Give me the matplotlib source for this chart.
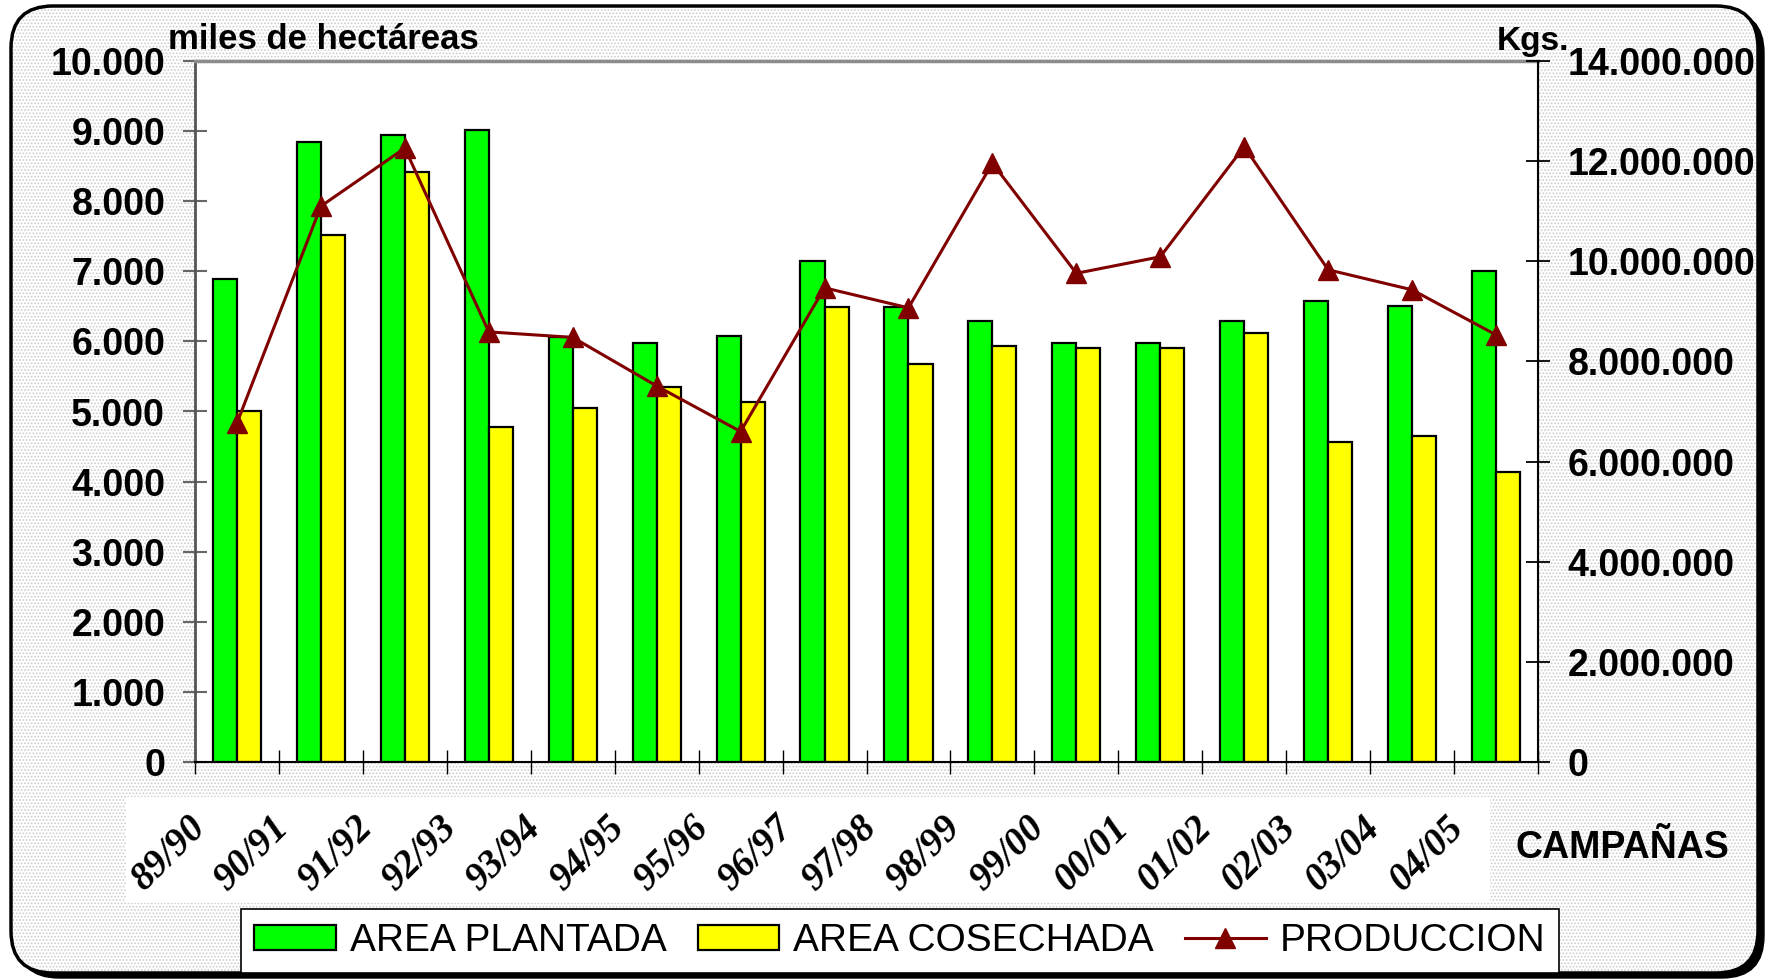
import matplotlib
matplotlib.use("Agg")
import matplotlib.pyplot as plt
import matplotlib.transforms as mtransforms
from matplotlib.patches import FancyBboxPatch, Rectangle
import numpy as np

plt.rcParams['font.family'] = ['Liberation Sans', 'DejaVu Sans']
plt.rcParams['font.weight'] = 'bold'
plt.rcParams['hatch.linewidth'] = 0.8

# datos
campanas = ["89/90", "90/91", "91/92", "92/93", "93/94", "94/95", "95/96", "96/97",
            "97/98", "98/99", "99/00", "00/01", "01/02", "02/03", "03/04", "04/05"]
area_plantada = [6890, 8850, 8940, 9020, 6060, 5980, 6070, 7140,
                 6490, 6290, 5980, 5980, 6290, 6580, 6500, 7010]
area_cosechada = [5000, 7520, 8420, 4780, 5050, 5350, 5130, 6490,
                  5680, 5940, 5900, 5900, 6120, 4570, 4650, 4140]
produccion = [6770000, 11100000, 12260000, 8590000, 8480000, 7510000, 6600000, 9470000,
              9070000, 11960000, 9760000, 10090000, 12290000, 9830000, 9430000, 8530000]
ticks_izq = [0, 1000, 2000, 3000, 4000, 5000, 6000, 7000, 8000, 9000, 10000]
ticks_der = [0, 2000000, 4000000, 6000000, 8000000, 10000000, 12000000, 14000000]


def miles(v, pos=None):
    return f"{v:,.0f}".replace(",", ".")


fig = plt.figure(figsize=(17.69, 9.8), dpi=100)
fig.patch.set_facecolor('white')

# marco redondeado con sombra y fondo punteado
caja = dict(boxstyle="round,pad=0,rounding_size=0.42", transform=fig.dpi_scale_trans)
fig.add_artist(FancyBboxPatch((0.17, 0.02), 17.47, 9.67, facecolor='black',
                              edgecolor='black', zorder=-20, **caja))
fig.add_artist(FancyBboxPatch((0.11, 0.07), 17.47, 9.67, facecolor='white',
                              edgecolor='#cccccc', linewidth=0, hatch='.....', zorder=-19, **caja))
fig.add_artist(FancyBboxPatch((0.11, 0.07), 17.47, 9.67, fill=False,
                              edgecolor='black', linewidth=2.5, zorder=-18, **caja))
# zona blanca detras de las etiquetas del eje x
fig.add_artist(Rectangle((1.26, 0.77), 13.64, 1.06, transform=fig.dpi_scale_trans,
                         facecolor='white', edgecolor='none', zorder=-15))

ax = fig.add_axes([195/1769, 1-762/980, (1538-195)/1769, (762-61)/980])
ax.set_facecolor('white')
ax2 = ax.twinx()

x = np.arange(len(campanas))
w = 0.287
b1 = ax.bar(x - w/2, area_plantada, w, color='#00ff00', edgecolor='black', linewidth=1.6)
b2 = ax.bar(x + w/2, area_cosechada, w, color='#ffff00', edgecolor='black', linewidth=1.6)
l1, = ax2.plot(x, produccion, color='#800000', linewidth=2.2, marker='^', markersize=15)

ax.set_xlim(-0.5, len(campanas) - 0.5)
ax.set_ylim(0, 10000)
ax2.set_ylim(0, 14000000)

ax.set_yticks(ticks_izq)
ax.yaxis.set_major_formatter(miles)
ax2.set_yticks(ticks_der)
ax2.yaxis.set_major_formatter(miles)

ax.set_xticks(np.arange(-0.5, len(campanas), 1))
ax.set_xticklabels([])
ax.tick_params(axis='x', direction='inout', length=17, width=1.0, color='black')
ax.tick_params(axis='y', direction='inout', length=17, width=1.5, color='#666666',
               labelsize=27, pad=13)
ax2.tick_params(axis='y', direction='inout', length=17, width=1.3, color='black',
                labelsize=27, pad=13)

ax.spines['top'].set_color('#8c8c8c')
ax.spines['top'].set_linewidth(2.5)
ax.spines['left'].set_color('#555555')
ax.spines['left'].set_linewidth(2)
ax.spines['bottom'].set_color('black')
ax.spines['bottom'].set_linewidth(1.5)
ax2.spines['right'].set_color('black')
ax2.spines['right'].set_linewidth(1.5)
ax2.spines['top'].set_visible(False)
ax2.spines['left'].set_visible(False)
ax2.spines['bottom'].set_visible(False)

# etiquetas de campañas inclinadas
desplaz = mtransforms.ScaledTranslation(-0.24, -0.47, fig.dpi_scale_trans)
for i, lab in enumerate(campanas):
    ax.text(x[i], 0, lab, transform=ax.get_xaxis_transform() + desplaz,
            rotation=45, ha='right', va='top', fontsize=28, fontweight='bold',
            fontstyle='italic', family=['Liberation Serif', 'DejaVu Serif'], clip_on=False)

fig.text(168/1769, 1-49/980, "miles de hectáreas", fontsize=25, fontweight='bold',
         ha='left', va='baseline')
fig.text(1497/1769, 1-50/980, "Kgs.", fontsize=24, fontweight='bold',
         ha='left', va='baseline')
fig.text(1515/1769, 1-858/980, "CAMPAÑAS", fontsize=27, fontweight='bold',
         ha='left', va='baseline')

leg = fig.legend([b1, b2, l1], ["AREA PLANTADA", "AREA COSECHADA", "PRODUCCION"],
                 loc='center', bbox_to_anchor=(900/1769, 1-941/980), ncol=3,
                 frameon=True, fancybox=False, edgecolor='black', framealpha=1,
                 prop=dict(family='Liberation Sans', weight='normal', size=28),
                 handlelength=2.1, handleheight=0.6, handletextpad=0.35,
                 columnspacing=0.8, borderpad=0.35, borderaxespad=0)
leg.get_frame().set_linewidth(1.2)

fig.savefig("out.png", dpi=100)
